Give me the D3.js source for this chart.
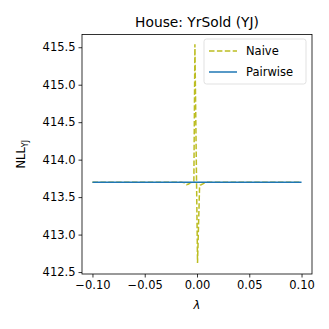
<!DOCTYPE html>
<html>
<head>
<meta charset="utf-8">
<script src="https://cdn.jsdelivr.net/npm/d3@7"></script>
<style>
  body { margin: 0; background: #fff; }
  svg text { font-family: "DejaVu Sans", sans-serif; fill: #000; }
  .axis path, .axis line { stroke: #000; stroke-width: 0.8; }
  .axis text { font-size: 11.5px; }
</style>
</head>
<body>
<div id="chart"></div>
<script>
// lambda grid and values
const naiveX = [-0.1, -0.05, -0.015, -0.012, -0.01, -0.008, -0.006, -0.004, -0.003, -0.002, 0.0005, 0.0025, 0.004, 0.006, 0.008, 0.011, 0.05, 0.1];
const naiveY = [413.70, 413.70, 413.70, 413.69, 413.665, 413.675, 413.695, 413.70, 413.71, 415.54, 412.62, 413.66, 413.665, 413.68, 413.70, 413.70, 413.70, 413.70];
const pairX = [-0.1, -0.05, 0, 0.05, 0.1];
const pairY = [413.70, 413.70, 413.70, 413.70, 413.70];
const xTicks = [-0.10, -0.05, 0.00, 0.05, 0.10];
const yTicks = [412.5, 413.0, 413.5, 414.0, 414.5, 415.0, 415.5];

const width = 329, height = 329;
const margin = { left: 82, right: 17, top: 34.5, bottom: 55 };

const svg = d3.select("#chart").append("svg")
  .attr("width", width)
  .attr("height", height);

const xScale = d3.scaleLinear()
  .domain([-0.11, 0.11])
  .range([margin.left, width - margin.right]);

const yScale = d3.scaleLinear()
  .domain([412.474, 415.67])
  .range([height - margin.bottom, margin.top]);

// axes
svg.append("g")
  .attr("class", "axis")
  .attr("transform", `translate(0,${height - margin.bottom})`)
  .call(d3.axisBottom(xScale).tickValues(xTicks).tickSize(3.5).tickPadding(3)
    .tickFormat(d => d3.format(".2f")(d).replace("-", "\u2212")))
  .call(g => g.select(".domain").remove());

svg.append("g")
  .attr("class", "axis")
  .attr("transform", `translate(${margin.left},0)`)
  .call(d3.axisLeft(yScale).tickValues(yTicks).tickSize(3.5).tickPadding(3)
    .tickFormat(d3.format(".1f")))
  .call(g => g.select(".domain").remove());

// lines
svg.append("clipPath").attr("id", "clip")
  .append("rect")
  .attr("x", margin.left).attr("y", margin.top)
  .attr("width", width - margin.left - margin.right)
  .attr("height", height - margin.top - margin.bottom);

const line = d3.line().x(d => xScale(d[0])).y(d => yScale(d[1]));

svg.append("path")
  .datum(naiveX.map((x, i) => [x, naiveY[i]]))
  .attr("clip-path", "url(#clip)")
  .attr("fill", "none")
  .attr("stroke", "#bcbd22")
  .attr("stroke-width", 1.5)
  .attr("stroke-dasharray", "5.5,2.4")
  .attr("d", line);

svg.append("path")
  .datum(pairX.map((x, i) => [x, pairY[i]]))
  .attr("clip-path", "url(#clip)")
  .attr("fill", "none")
  .attr("stroke", "#1f77b4")
  .attr("stroke-width", 1.5)
  .attr("d", line);

// frame
svg.append("rect")
  .attr("x", margin.left).attr("y", margin.top)
  .attr("width", width - margin.left - margin.right)
  .attr("height", height - margin.top - margin.bottom)
  .attr("fill", "none")
  .attr("stroke", "#000")
  .attr("stroke-width", 0.8);

// title and labels
svg.append("text")
  .attr("x", (margin.left + width - margin.right) / 2)
  .attr("y", 26.5)
  .attr("text-anchor", "middle")
  .style("font-size", "13.8px")
  .text("House: YrSold (YJ)");

svg.append("text")
  .attr("x", (margin.left + width - margin.right) / 2)
  .attr("y", 309)
  .attr("text-anchor", "middle")
  .style("font-size", "11.5px")
  .style("font-style", "italic")
  .text("λ");

const yl = svg.append("text")
  .attr("transform", `translate(25,${(margin.top + height - margin.bottom) / 2}) rotate(-90)`)
  .attr("text-anchor", "middle")
  .style("font-size", "11.5px");
yl.append("tspan").text("NLL");
yl.append("tspan").attr("dy", 3).style("font-size", "8px").text("YJ");

// legend
const legend = svg.append("g");
legend.append("rect")
  .attr("x", 204).attr("y", 39)
  .attr("width", 102).attr("height", 45)
  .attr("rx", 2.5)
  .attr("fill", "#fff").attr("fill-opacity", 0.8)
  .attr("stroke", "#d9d9d9").attr("stroke-width", 0.8);

const items = [
  { name: "Naive", color: "#bcbd22", dash: "5.5,2.4" },
  { name: "Pairwise", color: "#1f77b4", dash: null }
];
items.forEach((it, i) => {
  const y = 51 + i * 21;
  legend.append("line")
    .attr("x1", 209).attr("x2", 237)
    .attr("y1", y).attr("y2", y)
    .attr("stroke", it.color).attr("stroke-width", 1.5)
    .attr("stroke-dasharray", it.dash);
  legend.append("text")
    .attr("x", 246).attr("y", y + 4)
    .style("font-size", "11.5px")
    .text(it.name);
});
</script>
</body>
</html>
